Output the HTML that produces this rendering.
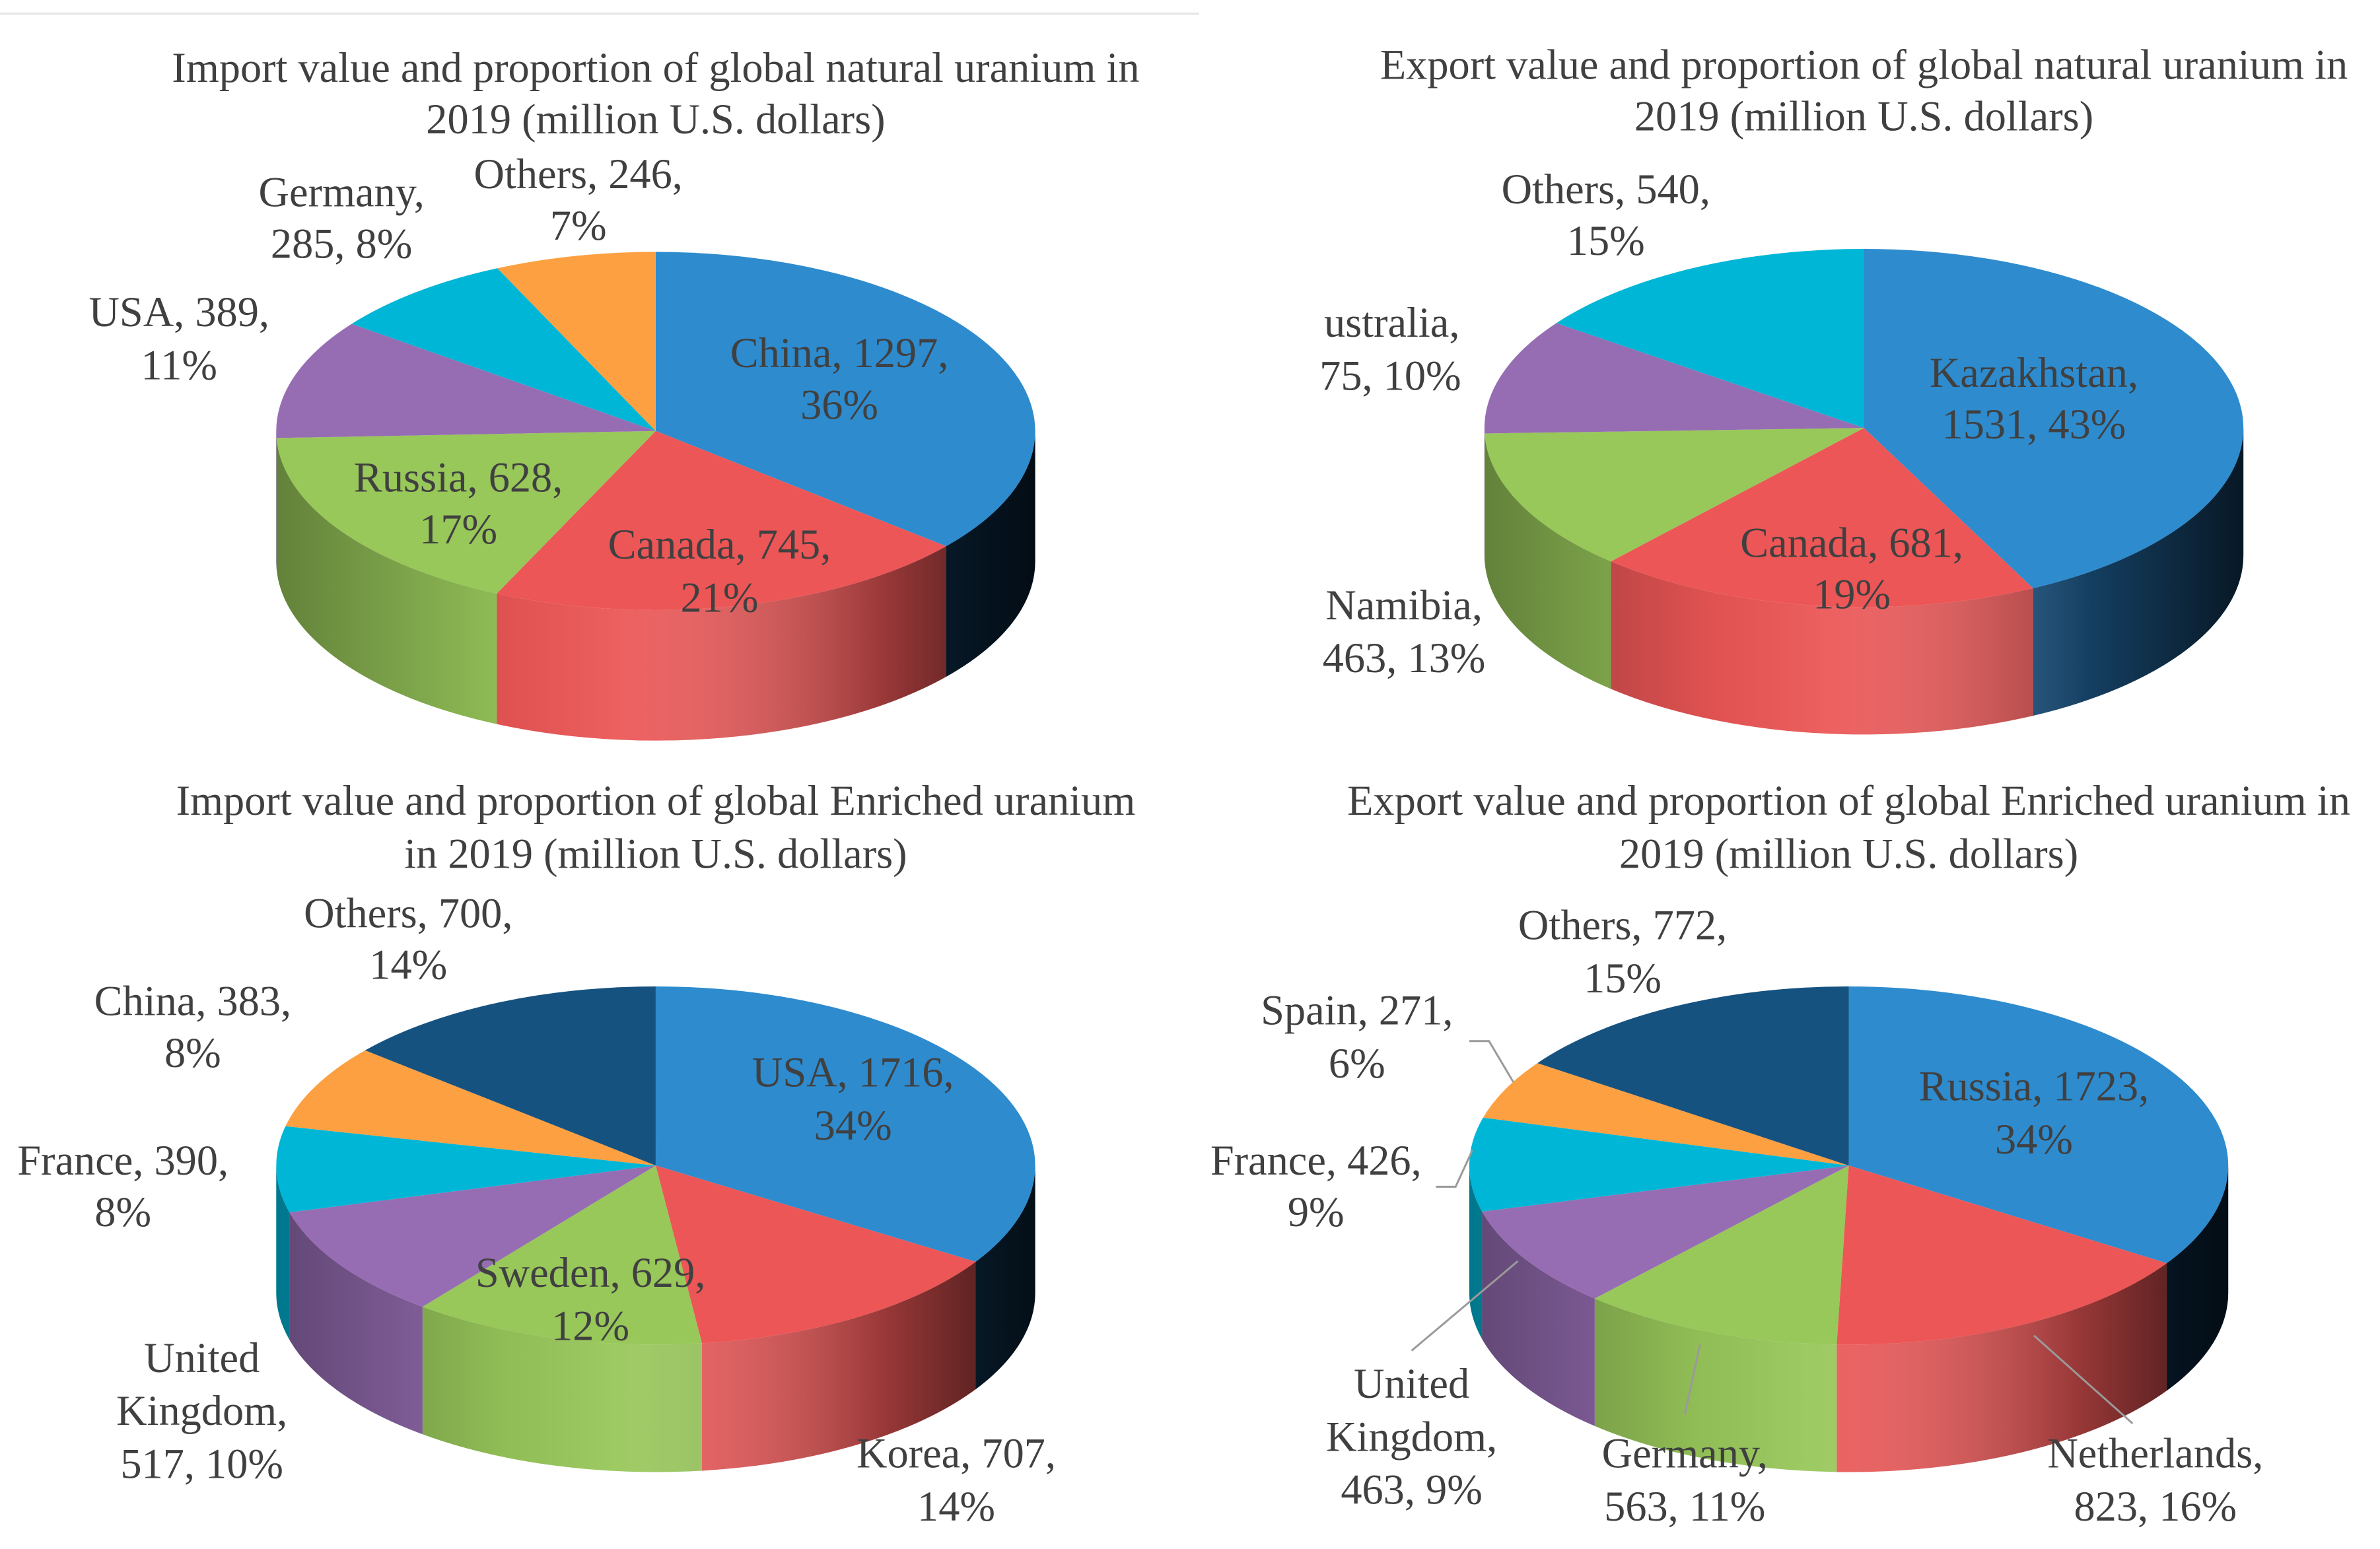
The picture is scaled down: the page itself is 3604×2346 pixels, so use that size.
<!DOCTYPE html>
<html><head><meta charset="utf-8">
<style>
html,body{margin:0;padding:0;background:#fff;}
svg{display:block;}
text,tspan{font-family:"Liberation Serif","DejaVu Serif",serif;font-size:28px;fill:#404040;}
</style></head>
<body>
<svg id="root" width="3604" height="2346" viewBox="0 0 1568 1020.7" preserveAspectRatio="none" xmlns="http://www.w3.org/2000/svg" font-family="Liberation Serif, serif">
<defs>
<linearGradient id="shade" x1="0" x2="1" y1="0" y2="0">
<stop offset="0" stop-color="#000" stop-opacity="0.35"/>
<stop offset="0.3" stop-color="#000" stop-opacity="0.05"/>
<stop offset="0.45" stop-color="#fff" stop-opacity="0.06"/>
<stop offset="0.8" stop-color="#000" stop-opacity="0.35"/>
<stop offset="1" stop-color="#000" stop-opacity="0.75"/>
</linearGradient>
</defs>
<line x1="0" y1="9" x2="790" y2="9" stroke="#e6e6e6" stroke-width="1.5"/>

<g>
<text text-anchor="middle"><tspan x="432" y="54">Import value and proportion of global natural uranium in</tspan><tspan x="432" y="88">2019 (million U.S. dollars)</tspan></text>
<g id="pie1"></g>
<g text-anchor="middle">
<text><tspan x="381" y="124">Others, 246,</tspan><tspan x="381" y="158">7%</tspan></text>
<text><tspan x="225" y="136">Germany,</tspan><tspan x="225" y="170">285, 8%</tspan></text>
<text><tspan x="118" y="215">USA, 389,</tspan><tspan x="118" y="250">11%</tspan></text>
<text><tspan x="553" y="242">China, 1297,</tspan><tspan x="553" y="276">36%</tspan></text>
<text><tspan x="302" y="324">Russia, 628,</tspan><tspan x="302" y="358">17%</tspan></text>
<text><tspan x="474" y="368">Canada, 745,</tspan><tspan x="474" y="403">21%</tspan></text>
</g></g>

<g>
<text text-anchor="middle"><tspan x="1228" y="52">Export value and proportion of global natural uranium in</tspan><tspan x="1228" y="86">2019 (million U.S. dollars)</tspan></text>
<g id="pie2"></g>
<g text-anchor="middle">
<text><tspan x="1058" y="134">Others, 540,</tspan><tspan x="1058" y="168">15%</tspan></text>
<text><tspan x="917" y="222">ustralia,</tspan><tspan x="916" y="257">75, 10%</tspan></text>
<text><tspan x="1340" y="255">Kazakhstan,</tspan><tspan x="1340" y="289">1531, 43%</tspan></text>
<text><tspan x="1220" y="367">Canada, 681,</tspan><tspan x="1220" y="401">19%</tspan></text>
<text><tspan x="925" y="408">Namibia,</tspan><tspan x="925" y="443">463, 13%</tspan></text>
</g></g>

<g>
<text text-anchor="middle"><tspan x="432" y="537">Import value and proportion of global Enriched uranium</tspan><tspan x="432" y="572">in 2019 (million U.S. dollars)</tspan></text>
<g id="pie3"></g>
<g text-anchor="middle">
<text><tspan x="269" y="611">Others, 700,</tspan><tspan x="269" y="645">14%</tspan></text>
<text><tspan x="127" y="669">China, 383,</tspan><tspan x="127" y="703">8%</tspan></text>
<text><tspan x="81" y="774">France, 390,</tspan><tspan x="81" y="808">8%</tspan></text>
<text><tspan x="562" y="716">USA, 1716,</tspan><tspan x="562" y="751">34%</tspan></text>
<text><tspan x="389" y="848">Sweden, 629,</tspan><tspan x="389" y="883">12%</tspan></text>
<text><tspan x="133" y="904">United</tspan><tspan x="133" y="939">Kingdom,</tspan><tspan x="133" y="974">517, 10%</tspan></text>
<text><tspan x="630" y="967">Korea, 707,</tspan><tspan x="630" y="1002">14%</tspan></text>
</g></g>

<g>
<text text-anchor="middle"><tspan x="1218" y="537">Export value and proportion of global Enriched uranium in</tspan><tspan x="1218" y="572">2019 (million U.S. dollars)</tspan></text>
<g id="pie4"></g>
<g fill="none" stroke="#9a9a9a" stroke-width="1.3">
<polyline points="968,686 981,686 997,713"/>
<polyline points="946,782 959,782 970,758"/>
<line x1="930" y1="890" x2="1000" y2="831"/>
<line x1="1110" y1="932" x2="1120" y2="886"/>
<line x1="1405" y1="938" x2="1340" y2="880"/>
</g>
<g text-anchor="middle">
<text><tspan x="1069" y="619">Others, 772,</tspan><tspan x="1069" y="654">15%</tspan></text>
<text><tspan x="894" y="675">Spain, 271,</tspan><tspan x="894" y="710">6%</tspan></text>
<text><tspan x="867" y="774">France, 426,</tspan><tspan x="867" y="808">9%</tspan></text>
<text><tspan x="1340" y="725">Russia, 1723,</tspan><tspan x="1340" y="760">34%</tspan></text>
<text><tspan x="930" y="921">United</tspan><tspan x="930" y="956">Kingdom,</tspan><tspan x="930" y="991">463, 9%</tspan></text>
<text><tspan x="1110" y="967">Germany,</tspan><tspan x="1110" y="1002">563, 11%</tspan></text>
<text><tspan x="1420" y="967">Netherlands,</tspan><tspan x="1420" y="1002">823, 16%</tspan></text>
</g></g>
</svg>
<script>
const importNaturalCategories = ["China","Canada","Russia","USA","Germany","Others"];
const importNaturalValues = [1297,745,628,389,285,246];
const exportNaturalCategories = ["Kazakhstan","Canada","Namibia","Australia","Others"];
const exportNaturalValues = [1531,681,463,375,540];
const importEnrichedCategories = ["USA","Korea","Sweden","United Kingdom","France","China","Others"];
const importEnrichedValues = [1716,707,629,517,390,383,700];
const exportEnrichedCategories = ["Russia","Netherlands","Germany","United Kingdom","France","Spain","Others"];
const exportEnrichedValues = [1723,823,563,463,426,271,772];

const C = {blue:"#2E8BCE",red:"#EC5656",green:"#98C75A",purple:"#966DB3",cyan:"#00B6D6",orange:"#FCA042",navy:"#165280"};
const SVGNS = "http://www.w3.org/2000/svg";

function drawPie(gid, cats, vals, colors, cx, cy, rx, ry, depth, sideColors) {
  const g = document.getElementById(gid);
  
  
  const total = vals.reduce((a,b)=>a+b,0);
  const pt = (a, dy) => [cx + rx*Math.sin(a), cy - ry*Math.cos(a) + dy];
  let acc = 0;
  const angs = vals.map(v => { const s = acc; acc += v/total*2*Math.PI; return [s, acc]; });
  const sides = document.createElementNS(SVGNS, 'g');
  
  
  g.appendChild(sides);
  angs.forEach(([a1,a2], i) => {
    const s = Math.max(a1, Math.PI/2), e = Math.min(a2, 3*Math.PI/2);
    if (e <= s) return;
    const p1 = pt(s,0), p2 = pt(e,0), p3 = pt(e,depth), p4 = pt(s,depth);
    const large = (e - s) > Math.PI ? 1 : 0;
    const d = `M${p1[0]},${p1[1]} A${rx},${ry} 0 ${large} 1 ${p2[0]},${p2[1]} L${p3[0]},${p3[1]} A${rx},${ry} 0 ${large} 0 ${p4[0]},${p4[1]} Z`;
    const path = document.createElementNS(SVGNS, 'path');
    path.setAttribute('d', d);
    path.setAttribute('fill', sideColors[i]);
    
    
    sides.appendChild(path);
  });
  const L = pt(Math.PI*1.5,0), R = pt(Math.PI/2,0);
  const ov = document.createElementNS(SVGNS, 'path');
  ov.setAttribute('d', `M${L[0]},${L[1]} A${rx},${ry} 0 0 0 ${R[0]},${R[1]} L${R[0]},${R[1]+depth} A${rx},${ry} 0 0 1 ${L[0]},${L[1]+depth} Z`);
  ov.setAttribute('fill', 'url(#shade)');
  
  
  sides.appendChild(ov);
  angs.forEach(([a1,a2], i) => {
    const p1 = pt(a1,0), p2 = pt(a2,0);
    const large = (a2 - a1) > Math.PI ? 1 : 0;
    const path = document.createElementNS(SVGNS, 'path');
    path.setAttribute('d', `M${cx},${cy} L${p1[0]},${p1[1]} A${rx},${ry} 0 ${large} 1 ${p2[0]},${p2[1]} Z`);
    path.setAttribute('fill', colors[i]);
    
    
    g.appendChild(path);
  });
}
drawPie('pie1', importNaturalCategories, importNaturalValues,
  [C.blue,C.red,C.green,C.purple,C.cyan,C.orange], 432, 284, 250, 118, 86,
  ["#0d3150",C.red,C.green,C.purple,C.cyan,C.orange]);
drawPie('pie2', exportNaturalCategories, exportNaturalValues,
  [C.blue,C.red,C.green,C.purple,C.cyan], 1228, 282, 250, 118, 84,
  ["#1f5f94",C.red,C.green,C.purple,C.cyan]);
drawPie('pie3', importEnrichedCategories, importEnrichedValues,
  [C.blue,C.red,C.green,C.purple,C.cyan,C.orange,C.navy], 432, 768, 250, 118, 84,
  ["#103a5c",C.red,C.green,C.purple,C.cyan,C.orange,C.navy]);
drawPie('pie4', exportEnrichedCategories, exportEnrichedValues,
  [C.blue,C.red,C.green,C.purple,C.cyan,C.orange,C.navy], 1218, 768, 250, 118, 84,
  ["#0d3150",C.red,C.green,C.purple,C.cyan,C.orange,C.navy]);
</script>
</body></html>
